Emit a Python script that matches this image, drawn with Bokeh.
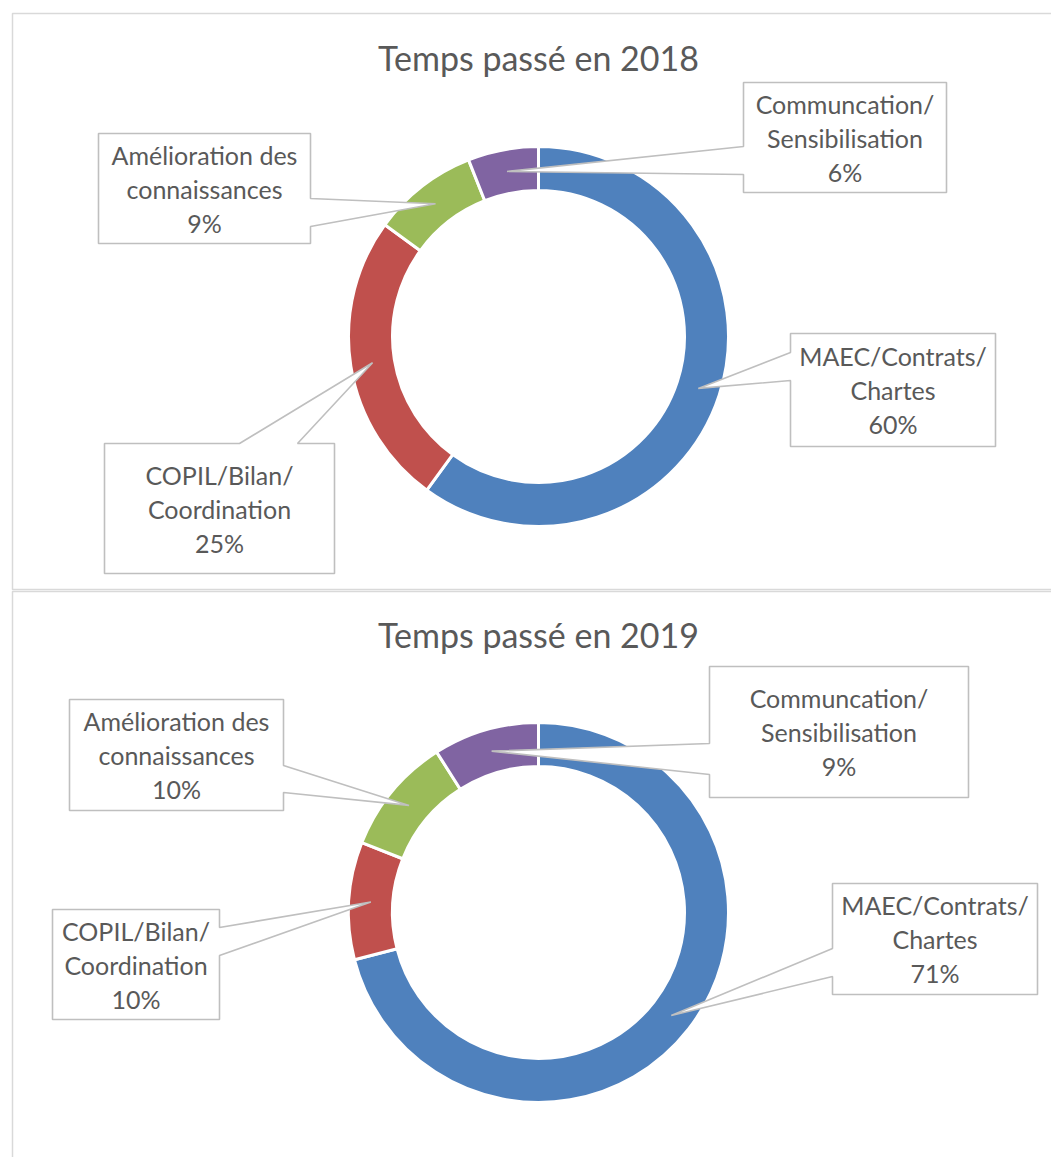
import math
from bokeh.plotting import figure
from bokeh.models import Range1d
from bokeh.core.properties import value
from bokeh.embed import file_html
from bokeh.resources import INLINE

# ---------------- data ----------------
years = ["2018", "2019"]
categories = ["MAEC/Contrats/Chartes", "COPIL/Bilan/Coordination",
              "Amélioration des connaissances", "Communcation/Sensibilisation"]
label_lines = [["MAEC/Contrats/", "Chartes"],
               ["COPIL/Bilan/", "Coordination"],
               ["Amélioration des", "connaissances"],
               ["Communcation/", "Sensibilisation"]]
values_2018 = [60, 25, 9, 6]
values_2019 = [71, 10, 10, 9]
colors = ["#4F81BD", "#C0504D", "#9BBB59", "#8064A2"]

# ---------------- layout (screen pixels, y downwards) ----------------
W, H = 1051, 1157
TXT = "#595959"
BOX = "#BFBFBF"
FRAME = "#D9D9D9"
FONT = "Lato"

charts = [
    dict(year="2018", vals=values_2018, cx=538, cy=336, title_y=57,
         boxes=[(790, 333, 995, 446, "left", 352, 380),
                (104, 443, 334, 573, "top", 239, 297),
                (98, 133, 310, 243, "right", 198, 226),
                (743, 82, 946, 192, "left", 146, 174)]),
    dict(year="2019", vals=values_2019, cx=538, cy=912, title_y=634,
         boxes=[(832, 883, 1037, 994, "left", 948, 976),
                (52, 909, 219, 1019, "right", 927, 955),
                (69, 699, 283, 810, "right", 765, 792),
                (709, 666, 968, 797, "left", 743, 774)]),
]
R_IN, R_OUT = 146, 190


def Y(y):
    return H - y


p = figure(width=W, height=H, x_range=Range1d(0, W), y_range=Range1d(0, H),
           output_backend="svg", toolbar_location=None, min_border=0)
p.axis.visible = False
p.grid.visible = False
p.outline_line_color = None
p.background_fill_color = "white"
p.border_fill_color = "white"

# frames of the two chart areas
p.line([W + 5, 12, 12, W + 5], [Y(13), Y(13), Y(589), Y(589)],
       line_color=FRAME, line_width=1.5)
p.line([W + 5, 12, 12], [Y(591), Y(591), Y(H + 5)],
       line_color=FRAME, line_width=1.5)

for ch in charts:
    vals = ch["vals"]
    total = float(sum(vals))
    cx, cy = ch["cx"], Y(ch["cy"])
    cum = 0.0
    starts, ends, mids = [], [], []
    for v in vals:
        f0 = cum / total
        cum += v
        f1 = cum / total
        starts.append(math.pi / 2 - 2 * math.pi * f0)
        ends.append(math.pi / 2 - 2 * math.pi * f1)
        mids.append(math.pi / 2 - 2 * math.pi * (f0 + f1) / 2)
    p.annular_wedge(x=[cx] * len(vals), y=[cy] * len(vals),
                    inner_radius=R_IN, outer_radius=R_OUT,
                    start_angle=starts, end_angle=ends, direction="clock",
                    fill_color=colors, line_color="white", line_width=3)

    # title
    p.text(x=[ch["cx"]], y=[Y(ch["title_y"])], text=["Temps passé en " + ch["year"]],
           text_font=value(FONT), text_font_size="34px", text_color=TXT,
           text_align="center", text_baseline="middle")

    r_mid = (R_IN + R_OUT) / 2
    for i, (l, t, r, b, side, j1, j2) in enumerate(ch["boxes"]):
        tipx = ch["cx"] + r_mid * math.cos(mids[i])
        tipy = ch["cy"] - r_mid * math.sin(mids[i])
        if side == "left":
            pts = [(l, t), (r, t), (r, b), (l, b), (l, j2), (tipx, tipy), (l, j1)]
        elif side == "right":
            pts = [(l, t), (r, t), (r, j1), (tipx, tipy), (r, j2), (r, b), (l, b)]
        else:  # top
            pts = [(l, t), (j1, t), (tipx, tipy), (j2, t), (r, t), (r, b), (l, b)]
        p.patch([q[0] for q in pts], [Y(q[1]) for q in pts],
                fill_color="white", line_color=BOX, line_width=1.6)
        pct = "{:.0f}%".format(100 * vals[i] / total)
        lines = label_lines[i] + [pct]
        mx = (l + r) / 2
        my = (t + b) / 2
        ys = [my - 34, my, my + 34]
        p.text(x=[mx] * 3, y=[Y(v) for v in ys], text=lines,
               text_font=value(FONT), text_font_size="25px", text_color=TXT,
               text_align="center", text_baseline="middle")

open("out.html", "w").write(file_html(p, INLINE))
